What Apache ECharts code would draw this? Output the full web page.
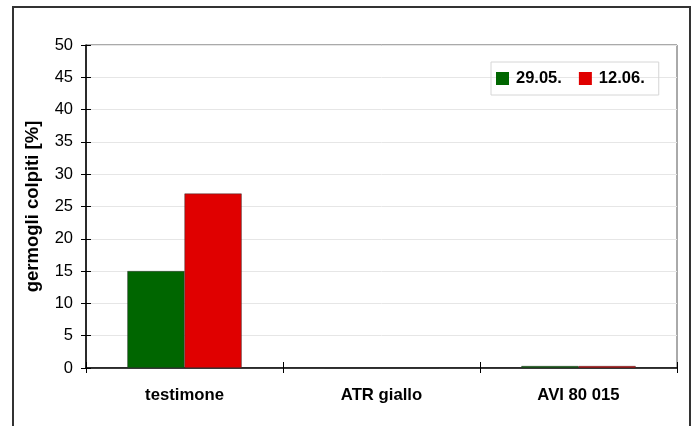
<!DOCTYPE html>
<html>
<head>
<meta charset="utf-8">
<script src="https://cdn.jsdelivr.net/npm/echarts@6/dist/echarts.min.js"></script>
<style>
  html, body { margin: 0; padding: 0; background: #fff; }
  #chart { width: 693px; height: 426px; }
</style>
</head>
<body>
<div id="chart"></div>
<script>
// Treatments on the category axis
const categories = ['testimone', 'ATR giallo', 'AVI 80 015'];
// Share of affected shoots (%) at each survey date
const date1Name = '29.05.';
const date1Values = [15, 0, 0.3];
const date2Name = '12.06.';
const date2Values = [27, 0, 0.3];
// Value axis range
const yMin = 0, yMax = 50, yStep = 5;

const FONT = '"Liberation Sans", Arial, Helvetica, sans-serif';
const chart = echarts.init(document.getElementById('chart'));

const grid = { left: 86, top: 45, right: 16, bottom: 58, show: true,
  borderColor: '#555', borderWidth: 1, backgroundColor: 'transparent' };

chart.setOption({
  animation: false,
  backgroundColor: '#fff',
  textStyle: { fontFamily: FONT },
  grid: grid,
  graphic: [{
    type: 'rect', silent: true,
    shape: { x: 13, y: 7, width: 677, height: 430 },
    style: { fill: 'none', stroke: '#333', lineWidth: 2 }
  }],
  legend: {
    left: 491, top: 62,
    padding: [8, 14, 8, 5],
    itemGap: 17,
    itemWidth: 13, itemHeight: 13,
    icon: 'rect',
    itemStyle: { borderWidth: 0 },
    borderColor: '#d6d6d6', borderWidth: 1,
    textStyle: { fontFamily: FONT, fontSize: 16.5, fontWeight: 'bold', color: '#000', padding: [0, 0, 0, 2] },
    data: [date1Name, date2Name]
  },
  xAxis: [{
    type: 'category', data: categories,
    axisLine: { lineStyle: { color: '#000', width: 1.5 } },
    axisTick: { show: true, alignWithLabel: false, length: 5, lineStyle: { color: '#000' } },
    axisLabel: { fontFamily: FONT, fontSize: 16.7, fontWeight: 'bold', color: '#000', margin: 19 },
    splitLine: { show: false }
  }, {
    type: 'category', data: categories, position: 'bottom',
    axisLine: { show: false },
    axisTick: { show: true, inside: true, alignWithLabel: false, length: 6, lineStyle: { color: '#000' } },
    axisLabel: { show: false },
    splitLine: { show: false }
  }],
  yAxis: [{
    type: 'value', min: yMin, max: yMax, interval: yStep,
    name: 'germogli colpiti [%]', nameLocation: 'middle', nameGap: 44,
    nameTextStyle: { fontFamily: FONT, fontSize: 18.5, fontWeight: 'bold', color: '#000' },
    axisLine: { show: true, lineStyle: { color: '#000', width: 1.5 } },
    axisTick: { show: true, length: 5, lineStyle: { color: '#000' } },
    axisLabel: { fontFamily: FONT, fontSize: 16.5, color: '#000', margin: 13 },
    splitLine: { show: true, lineStyle: { color: '#e6e6e6', width: 1 } }
  }, {
    type: 'value', min: yMin, max: yMax, interval: yStep, position: 'left',
    axisLine: { show: false },
    axisTick: { show: true, inside: true, length: 5, lineStyle: { color: '#000' } },
    axisLabel: { show: false },
    splitLine: { show: false }
  }],
  series: [{
    name: date1Name, type: 'bar', data: date1Values,
    barGap: '0%', barCategoryGap: '42%',
    itemStyle: { color: '#006600', borderColor: '#333', borderWidth: 0.5 }
  }, {
    name: date2Name, type: 'bar', data: date2Values,
    barGap: '0%', barCategoryGap: '42%',
    itemStyle: { color: '#e00000', borderColor: '#333', borderWidth: 0.5 }
  }]
});
</script>
</body>
</html>
